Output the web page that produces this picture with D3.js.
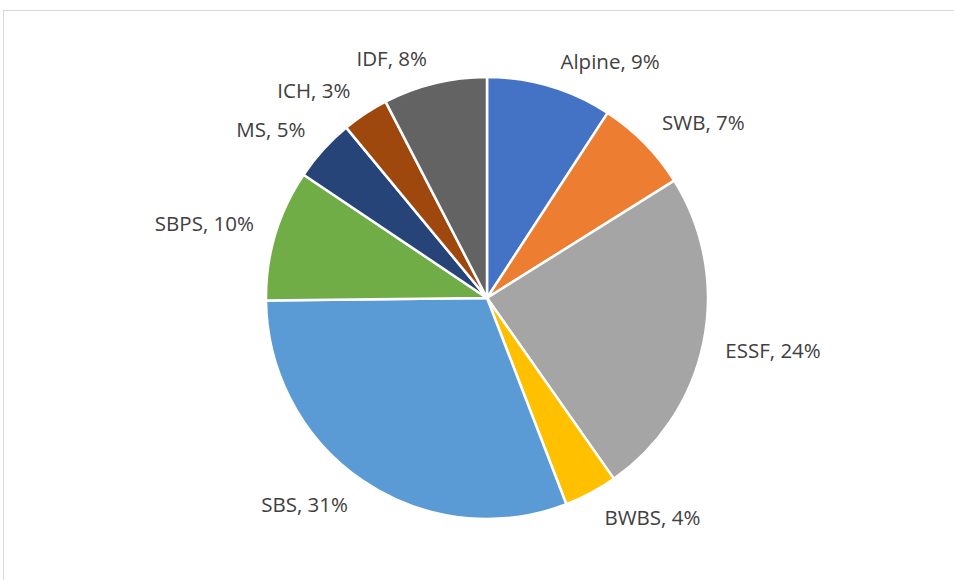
<!DOCTYPE html>
<html>
<head>
<meta charset="utf-8">
<script src="https://cdn.jsdelivr.net/npm/d3@7"></script>
<style>
  html, body { margin: 0; padding: 0; background: #fff; }
  svg { display: block; }
</style>
</head>
<body>
<svg id="chart" width="954" height="580"></svg>
<script>
const categories = ["Alpine", "SWB", "ESSF", "BWBS", "SBS", "SBPS", "MS", "ICH", "IDF"];
const shares = [9.2, 6.9, 24.2, 3.9, 30.7, 9.6, 4.6, 3.4, 7.6];
const colors = ["#4472C4", "#ED7D31", "#A5A5A5", "#FFC000", "#5B9BD5", "#70AD47", "#264478", "#9E480E", "#636363"];

const W = 954, H = 580;
const cx = 487, cy = 298, R = 221;
const svg = d3.select("#chart");

// chart frame (cropped at right and bottom)
svg.append("rect")
  .attr("x", 3.5).attr("y", 10.5)
  .attr("width", W + 10).attr("height", H + 10)
  .attr("fill", "none").attr("stroke", "#d9d9d9").attr("stroke-width", 1);

const data = categories.map((c, i) => ({ name: c, value: shares[i], color: colors[i] }));
const total = d3.sum(shares);

const pie = d3.pie().sort(null).value(d => d.value);
const arcs = pie(data);
const arc = d3.arc().innerRadius(0).outerRadius(R);

const g = svg.append("g").attr("transform", `translate(${cx},${cy})`);
g.selectAll("path.slice")
  .data(arcs)
  .join("path")
  .attr("class", "slice")
  .attr("d", arc)
  .attr("fill", d => d.data.color)
  .attr("stroke", "#fff")
  .attr("stroke-width", 2.5)
  .attr("stroke-linejoin", "round");

// labels outside end
const fmt = d3.format(".0f");
const labelR = R + 16;
const fontSize = 20.5;
const lbl = g.selectAll("text.lbl")
  .data(arcs)
  .join("text")
  .attr("class", "lbl")
  .attr("font-family", "'Open Sans', sans-serif")
  .attr("font-size", fontSize)
  .attr("fill", "#404040")
  .attr("text-anchor", "middle")
  .attr("dominant-baseline", "central")
  .text(d => `${d.data.name}, ${fmt(d.data.value / total * 100)}%`);

lbl.each(function(d) {
  const a = (d.startAngle + d.endAngle) / 2;
  const s = Math.sin(a), c = Math.cos(a);
  const px = labelR * s + Math.sign(s) * 6, py = -labelR * c;
  const bb = this.getBBox();
  const w = bb.width, h = 20;
  const tx = px + Math.sign(s) * (w / 2) * Math.min(1, Math.abs(s) * 4);
  const ty = py - Math.sign(c) * (h / 2) * Math.min(1, Math.abs(c) * 2.5);
  d3.select(this).attr("x", tx).attr("y", ty);
});
</script>
</body>
</html>
